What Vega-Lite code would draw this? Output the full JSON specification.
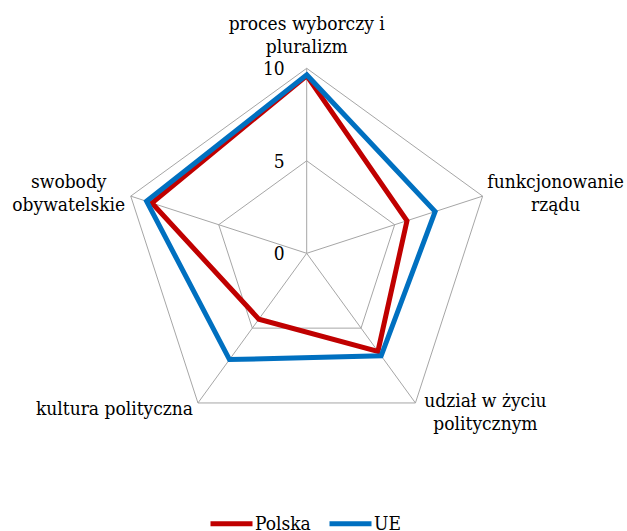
{
  "$schema": "https://vega.github.io/schema/vega-lite/v6.json",
  "width": 627,
  "height": 531,
  "autosize": {"type": "none"},
  "padding": 0,
  "background": "white",
  "config": {"view": {"stroke": null}},
  "datasets": {
    "axes": [
      {"axis": "proces wyborczy i pluralizm", "label": "proces wyborczy i\npluralizm", "idx": 0},
      {"axis": "funkcjonowanie rządu", "label": "funkcjonowanie\nrządu", "idx": 1},
      {"axis": "udział w życiu politycznym", "label": "udział w życiu\npolitycznym", "idx": 2},
      {"axis": "kultura polityczna", "label": "kultura polityczna", "idx": 3},
      {"axis": "swobody obywatelskie", "label": "swobody\nobywatelskie", "idx": 4}
    ],
    "scores": [
      {"axis": "proces wyborczy i pluralizm", "series": "Polska", "value": 9.6},
      {"axis": "funkcjonowanie rządu", "series": "Polska", "value": 5.7},
      {"axis": "udział w życiu politycznym", "series": "Polska", "value": 6.55},
      {"axis": "kultura polityczna", "series": "Polska", "value": 4.4},
      {"axis": "swobody obywatelskie", "series": "Polska", "value": 8.8},
      {"axis": "proces wyborczy i pluralizm", "series": "UE", "value": 9.65},
      {"axis": "funkcjonowanie rządu", "series": "UE", "value": 7.3},
      {"axis": "udział w życiu politycznym", "series": "UE", "value": 6.85},
      {"axis": "kultura polityczna", "series": "UE", "value": 7.1},
      {"axis": "swobody obywatelskie", "series": "UE", "value": 9.1}
    ],
    "ticks": [{"tick": 0}, {"tick": 5}, {"tick": 10}]
  },
  "layer": [
    {
      "data": {"name": "axes"},
      "transform": [
        {"calculate": "PI/2 - datum.idx*2*PI/5", "as": "ang"},
        {"calculate": "10*cos(datum.ang)", "as": "ex"},
        {"calculate": "10*sin(datum.ang)", "as": "ey"},
        {"calculate": "0", "as": "o"}
      ],
      "mark": {"type": "rule", "color": "#a6a6a6", "strokeWidth": 1},
      "encoding": {
        "x": {"field": "o", "type": "quantitative", "scale": {"domain": [-16.578, 17.314], "nice": false, "zero": false}, "axis": null},
        "y": {"field": "o", "type": "quantitative", "scale": {"domain": [-15.011, 13.692], "nice": false, "zero": false}, "axis": null},
        "x2": {"field": "ex"},
        "y2": {"field": "ey"}
      }
    },
    {
      "data": {"name": "axes"},
      "transform": [
        {"calculate": "[5, 10]", "as": "rings"},
        {"flatten": ["rings"], "as": ["ring"]},
        {"calculate": "PI/2 - datum.idx*2*PI/5", "as": "ang"},
        {"calculate": "datum.ring*cos(datum.ang)", "as": "px"},
        {"calculate": "datum.ring*sin(datum.ang)", "as": "py"}
      ],
      "mark": {"type": "line", "interpolate": "linear-closed", "color": "#a6a6a6", "strokeWidth": 1},
      "encoding": {
        "x": {"field": "px", "type": "quantitative", "scale": {"domain": [-16.578, 17.314], "nice": false, "zero": false}, "axis": null},
        "y": {"field": "py", "type": "quantitative", "scale": {"domain": [-15.011, 13.692], "nice": false, "zero": false}, "axis": null},
        "detail": {"field": "ring", "type": "nominal"},
        "order": {"field": "idx", "type": "quantitative"}
      }
    },
    {
      "data": {"name": "scores"},
      "transform": [
        {"lookup": "axis", "from": {"data": {"name": "axes"}, "key": "axis", "fields": ["idx"]}},
        {"calculate": "PI/2 - datum.idx*2*PI/5", "as": "ang"},
        {"calculate": "datum.value*cos(datum.ang)", "as": "px"},
        {"calculate": "datum.value*sin(datum.ang)", "as": "py"}
      ],
      "mark": {"type": "line", "interpolate": "linear-closed", "strokeWidth": 5, "strokeJoin": "miter"},
      "encoding": {
        "x": {"field": "px", "type": "quantitative", "scale": {"domain": [-16.578, 17.314], "nice": false, "zero": false}, "axis": null},
        "y": {"field": "py", "type": "quantitative", "scale": {"domain": [-15.011, 13.692], "nice": false, "zero": false}, "axis": null},
        "order": {"field": "idx", "type": "quantitative"},
        "color": {
          "field": "series",
          "type": "nominal",
          "scale": {"domain": ["Polska", "UE"], "range": ["#c00000", "#0070c0"]},
          "legend": {
            "title": null,
            "orient": "none",
            "legendX": 208,
            "legendY": 500,
            "direction": "horizontal",
            "padding": 0,
            "symbolType": "stroke",
            "symbolSize": 1764,
            "symbolStrokeWidth": 5,
            "labelFont": "DejaVu Serif Condensed, DejaVu Serif",
            "labelFontSize": 19,
            "labelColor": "#000000",
            "labelOffset": 0,
            "columnPadding": 8
          }
        }
      }
    },
    {
      "data": {"name": "ticks"},
      "mark": {"type": "text", "align": "right", "baseline": "alphabetic", "dx": -22, "dy": 7, "fontSize": 19, "font": "DejaVu Serif Condensed, DejaVu Serif", "color": "#000000"},
      "encoding": {
        "x": {"datum": 0, "type": "quantitative", "scale": {"domain": [-16.578, 17.314], "nice": false, "zero": false}, "axis": null},
        "y": {"field": "tick", "type": "quantitative", "scale": {"domain": [-15.011, 13.692], "nice": false, "zero": false}, "axis": null},
        "text": {"field": "tick", "type": "quantitative"}
      }
    },
    {
      "data": {"name": "axes"},
      "transform": [
        {"filter": "datum.idx == 0"},
        {"calculate": "PI/2 - datum.idx*2*PI/5", "as": "ang"},
        {"calculate": "10*cos(datum.ang)", "as": "ex"},
        {"calculate": "10*sin(datum.ang)", "as": "ey"}
      ],
      "mark": {"type": "text", "align": "center", "baseline": "alphabetic", "lineBreak": "\n", "lineHeight": 23, "dx": 0, "dy": -38, "fontSize": 19, "font": "DejaVu Serif Condensed, DejaVu Serif", "color": "#000000"},
      "encoding": {
        "x": {"field": "ex", "type": "quantitative", "scale": {"domain": [-16.578, 17.314], "nice": false, "zero": false}, "axis": null},
        "y": {"field": "ey", "type": "quantitative", "scale": {"domain": [-15.011, 13.692], "nice": false, "zero": false}, "axis": null},
        "text": {"field": "label", "type": "nominal"}
      }
    },
    {
      "data": {"name": "axes"},
      "transform": [
        {"filter": "datum.idx == 1"},
        {"calculate": "PI/2 - datum.idx*2*PI/5", "as": "ang"},
        {"calculate": "10*cos(datum.ang)", "as": "ex"},
        {"calculate": "10*sin(datum.ang)", "as": "ey"}
      ],
      "mark": {"type": "text", "align": "center", "baseline": "alphabetic", "lineBreak": "\n", "lineHeight": 23, "dx": 73, "dy": -8, "fontSize": 19, "font": "DejaVu Serif Condensed, DejaVu Serif", "color": "#000000"},
      "encoding": {
        "x": {"field": "ex", "type": "quantitative", "scale": {"domain": [-16.578, 17.314], "nice": false, "zero": false}, "axis": null},
        "y": {"field": "ey", "type": "quantitative", "scale": {"domain": [-15.011, 13.692], "nice": false, "zero": false}, "axis": null},
        "text": {"field": "label", "type": "nominal"}
      }
    },
    {
      "data": {"name": "axes"},
      "transform": [
        {"filter": "datum.idx == 2"},
        {"calculate": "PI/2 - datum.idx*2*PI/5", "as": "ang"},
        {"calculate": "10*cos(datum.ang)", "as": "ex"},
        {"calculate": "10*sin(datum.ang)", "as": "ey"}
      ],
      "mark": {"type": "text", "align": "center", "baseline": "alphabetic", "lineBreak": "\n", "lineHeight": 23, "dx": 70, "dy": 4, "fontSize": 19, "font": "DejaVu Serif Condensed, DejaVu Serif", "color": "#000000"},
      "encoding": {
        "x": {"field": "ex", "type": "quantitative", "scale": {"domain": [-16.578, 17.314], "nice": false, "zero": false}, "axis": null},
        "y": {"field": "ey", "type": "quantitative", "scale": {"domain": [-15.011, 13.692], "nice": false, "zero": false}, "axis": null},
        "text": {"field": "label", "type": "nominal"}
      }
    },
    {
      "data": {"name": "axes"},
      "transform": [
        {"filter": "datum.idx == 3"},
        {"calculate": "PI/2 - datum.idx*2*PI/5", "as": "ang"},
        {"calculate": "10*cos(datum.ang)", "as": "ex"},
        {"calculate": "10*sin(datum.ang)", "as": "ey"}
      ],
      "mark": {"type": "text", "align": "right", "baseline": "alphabetic", "lineBreak": "\n", "lineHeight": 23, "dx": -5, "dy": 12, "fontSize": 19, "font": "DejaVu Serif Condensed, DejaVu Serif", "color": "#000000"},
      "encoding": {
        "x": {"field": "ex", "type": "quantitative", "scale": {"domain": [-16.578, 17.314], "nice": false, "zero": false}, "axis": null},
        "y": {"field": "ey", "type": "quantitative", "scale": {"domain": [-15.011, 13.692], "nice": false, "zero": false}, "axis": null},
        "text": {"field": "label", "type": "nominal"}
      }
    },
    {
      "data": {"name": "axes"},
      "transform": [
        {"filter": "datum.idx == 4"},
        {"calculate": "PI/2 - datum.idx*2*PI/5", "as": "ang"},
        {"calculate": "10*cos(datum.ang)", "as": "ex"},
        {"calculate": "10*sin(datum.ang)", "as": "ey"}
      ],
      "mark": {"type": "text", "align": "center", "baseline": "alphabetic", "lineBreak": "\n", "lineHeight": 23, "dx": -62, "dy": -8, "fontSize": 19, "font": "DejaVu Serif Condensed, DejaVu Serif", "color": "#000000"},
      "encoding": {
        "x": {"field": "ex", "type": "quantitative", "scale": {"domain": [-16.578, 17.314], "nice": false, "zero": false}, "axis": null},
        "y": {"field": "ey", "type": "quantitative", "scale": {"domain": [-15.011, 13.692], "nice": false, "zero": false}, "axis": null},
        "text": {"field": "label", "type": "nominal"}
      }
    }
  ]
}
